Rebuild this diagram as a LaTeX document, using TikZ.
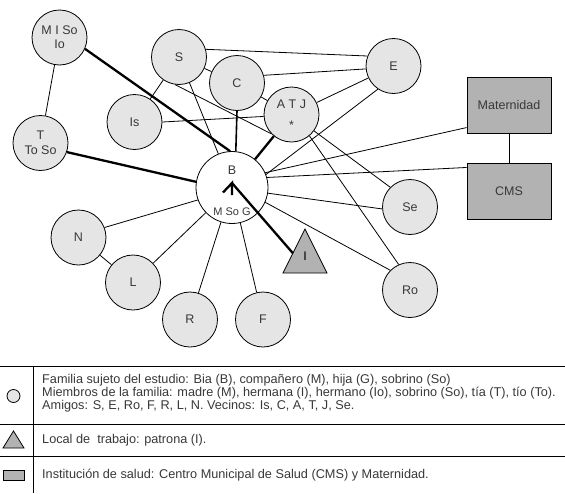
\documentclass[tikz,border=0pt]{standalone}
\usepackage{fontspec}
\setmainfont{Liberation Sans}
\usetikzlibrary{arrows.meta,calc}
\definecolor{nodefill}{gray}{0.9}
\definecolor{darkfill}{gray}{0.7}
\definecolor{txt}{gray}{0.22}
\begin{document}
\begin{tikzpicture}[x=1pt,y=-1pt,
  pers/.style={circle, draw=black, line width=0.8pt, fill=nodefill, minimum size=55pt, inner sep=0pt,
    font=\fontsize{12.5}{14}\selectfont, text=txt, align=center},
  hub/.style={pers, fill=white, minimum size=72pt},
  inst/.style={rectangle, draw=black, line width=0.9pt, fill=darkfill, minimum width=84pt, minimum height=56pt,
    inner sep=0pt, font=\fontsize{12.5}{14}\selectfont, text=txt},
  tri/.style={draw=black, line width=0.8pt, fill=darkfill, line join=miter},
  tie/.style={line width=0.8pt},
  strong/.style={line width=2.3pt},
  medium/.style={line width=1.6pt},
  rule/.style={line width=0.8pt},
  legtext/.style={anchor=west, inner sep=0pt, align=left, text=txt, font=\fontsize{12.7}{12.8}\selectfont},
  ]
\useasboundingbox (0,0) rectangle (565,493);

% ---------- nodes ----------
\node[pers] (MISo) at (59.5,37.5) {M I So\\Io};
\node[pers] (S)    at (179,57)    {S};
\node[pers] (C)    at (237,83)    {C};
\node[pers] (ATJ)  at (291.5,114.5) {A T J\\[6.5pt]*};
\node[pers] (Is)   at (134.5,122) {Is};
\node[pers] (T)    at (40.5,143)  {T\\[1pt]To So};
\node[pers] (E)    at (393.5,66)  {E};
\node[hub]  (B)    at (232,187.5) {\raisebox{0pt}[15pt][0pt]{B}\\[27pt]{\fontsize{11}{12}\selectfont M So G}};
\node[pers] (N)    at (78.5,237.5) {N};
\node[pers] (L)    at (133,282.5) {L};
\node[pers] (R)    at (190,319.5) {R};
\node[pers] (F)    at (263,319.5) {F};
\node[pers] (Se)   at (410,207)   {Se};
\node[pers] (Ro)   at (410,290)   {Ro};
\node[inst] (Mat)  at (509,105)   {Maternidad};
\node[inst] (CMS)  at (509,191)   {CMS};

% work place (triangle)
\coordinate (Ta) at (305,229);
\coordinate (Tb) at (283,273);
\coordinate (Tc) at (327,273);
\draw[tri] (Ta) -- (Tb) -- (Tc) -- cycle;
\node[font=\fontsize{12.5}{14}\selectfont, text=black, inner sep=0pt] (I) at (305,256) {I};
\coordinate (Itail) at ($(Tb)!0.45!(Ta)$);
\coordinate (Bhub) at ([yshift=4.5pt]B.center);

% ---------- ties ----------
\draw[tie] (MISo) -- (T);
\draw[strong] (MISo.-24) -- (B.93);
\draw[strong] (T.-19) -- (B.171);
\draw[tie] (S) -- (Is);
\draw[tie] (S) -- (B);
\draw[tie] (S.16) -- (E.159);
\draw[tie] (S) -- (C);
\draw[tie] (S.-98) -- (ATJ.224);
\draw[tie] (C.16) -- (E.186);
\draw[tie] (C) -- (ATJ);
\draw[medium] (C.south) -- (B.84);
\draw[tie] (Is.0) -- (ATJ.184);
\draw[strong] (ATJ) -- (B);
\draw[tie] (ATJ) -- (E);
\draw[tie] (E.236) -- (B.21);
\draw[tie] (Mat.208.7) -- (B.24);
\draw[tie] (CMS.151.3) -- (B.16);
\draw[tie] (Mat) -- (CMS);
\draw[tie] (B.-9) -- (Se.184);
\draw[tie] (B.-24) -- (Ro.135);
\draw[tie] (ATJ.-36) -- (Se.135);
\draw[tie] (ATJ.-50) -- (Ro.114);
\draw[tie] (N.21.6) -- (B.200);
\draw[tie] (N) -- (L);
\draw[tie] (L) -- (B);
\draw[tie] (R) -- (B);
\draw[tie] (F) -- (B);

% arrow from the work place into B
\draw[strong] (Itail) -- (Bhub);
\draw[strong, line join=miter] ([shift={(-9,9.5)}]Bhub) -- (Bhub) -- ([shift={(0,12)}]Bhub);

% ---------- legend ----------
\draw[rule] (0,366) -- (565,366);
\draw[rule] (0,424) -- (565,424);
\draw[rule] (0,456) -- (565,456);
\draw[rule] (33,366) -- (33,493);

\node[circle, draw=black, line width=0.8pt, fill=nodefill, minimum size=13pt, inner sep=0pt] (legcirc) at (13.5,396) {};
\coordinate (La) at (13.5,431);
\coordinate (Lb) at (3,448);
\coordinate (Lc) at (24,448);
\draw[tri] (La) -- (Lb) -- (Lc) -- cycle;
\node[rectangle, draw=black, line width=0.8pt, fill=darkfill, minimum width=21pt, minimum height=10pt, inner sep=0pt] (legrect) at (14,475) {};

\node[legtext] (leg1) at (42,393.5) {Familia sujeto del estudio: Bia (B), compañero (M), hija (G), sobrino (So)\\
Miembros de la familia: madre (M), hermana (I), hermano (Io), sobrino (So), tía (T), tío (To).\\
Amigos: S, E, Ro, F, R, L, N. Vecinos: Is, C, A, T, J, Se.};
\node[legtext] (leg2) at (42,440) {Local de\ \ trabajo: patrona (I).};
\node[legtext] (leg3) at (42,475) {Institución de salud: Centro Municipal de Salud (CMS) y Maternidad.};
\end{tikzpicture}
\end{document}
